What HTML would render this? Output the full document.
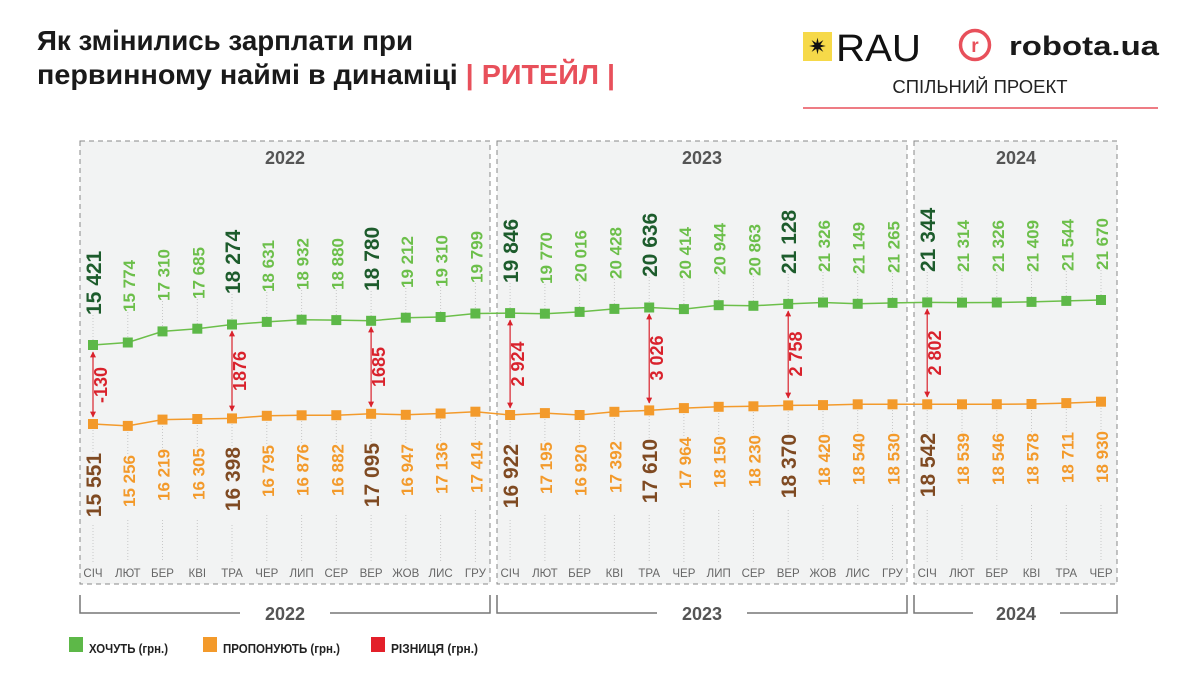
<!DOCTYPE html>
<html><head><meta charset="utf-8"><style>
html,body{margin:0;padding:0;background:#fff;}
svg{display:block;font-family:"Liberation Sans",sans-serif;}
.g{fill:#6cbf4a;font-weight:bold;font-size:17px;}
.gd{fill:#1d5c2c;font-weight:bold;font-size:21px;}
.o{fill:#f39a2b;font-weight:bold;font-size:17px;}
.od{fill:#7f4a22;font-weight:bold;font-size:21px;}
.d{fill:#d9222c;font-weight:bold;font-size:18px;}
.m{fill:#666;font-size:11.5px;text-anchor:middle;}
.yr{fill:#555;font-weight:bold;font-size:18px;text-anchor:middle;}
.lg{fill:#222;font-weight:bold;font-size:13px;}
</style></head><body>
<svg width="1200" height="675" viewBox="0 0 1200 675" xmlns="http://www.w3.org/2000/svg">
<defs>
<marker id="ah" viewBox="0 0 10 10" refX="9" refY="5" markerWidth="5" markerHeight="5" orient="auto-start-reverse"><path d="M0,0 L10,5 L0,10 z" fill="#d9222c"/></marker>
</defs>
<!-- title -->
<text x="37" y="50" font-size="28" font-weight="bold" fill="#1a1a1a" textLength="376" lengthAdjust="spacingAndGlyphs">Як змінились зарплати при</text>
<text x="37" y="84" font-size="28" font-weight="bold" fill="#1a1a1a" textLength="578" lengthAdjust="spacingAndGlyphs">первинному наймі в динаміці <tspan fill="#e8505b">| РИТЕЙЛ |</tspan></text>
<!-- logos -->
<rect x="803" y="32" width="29" height="29" fill="#f6d949"/>
<text x="817.5" y="54" font-size="22" text-anchor="middle" fill="#111">✷</text>
<text x="836" y="61" font-size="38" fill="#111" textLength="85" lengthAdjust="spacingAndGlyphs">RAU</text>
<circle cx="975" cy="45" r="14.5" fill="none" stroke="#e8505b" stroke-width="3.5"/>
<text x="975" y="52" font-size="19" font-weight="bold" text-anchor="middle" fill="#e8505b">r</text>
<text x="1009" y="55" font-size="27" font-weight="bold" fill="#1a1a1a" textLength="150" lengthAdjust="spacingAndGlyphs">robota.ua</text>
<text x="980" y="93" font-size="18.5" text-anchor="middle" fill="#222">СПІЛЬНИЙ ПРОЕКТ</text>
<line x1="803" y1="108" x2="1158" y2="108" stroke="#e8505b" stroke-width="1.5"/>
<!-- panels -->
<rect x="80" y="141" width="410" height="443" fill="#f2f3f3" stroke="#888" stroke-dasharray="5,4"/>
<rect x="497" y="141" width="410" height="443" fill="#f2f3f3" stroke="#888" stroke-dasharray="5,4"/>
<rect x="914" y="141" width="203" height="443" fill="#f2f3f3" stroke="#888" stroke-dasharray="5,4"/>
<text class="yr" x="285" y="164">2022</text>
<text class="yr" x="702" y="164">2023</text>
<text class="yr" x="1016" y="164">2024</text>
<!-- leader lines -->
<g stroke="#c8c8c8" stroke-width="1" stroke-dasharray="1,2">
<path d="M93,315V345M127.8,312V342M162.5,301V331M197.3,299V329M232,294V324M266.8,292V322M301.6,290V320M336.3,290V320M371.1,291V321M405.8,288V318M440.6,287V317M475.4,283V313M510.1,283V313M544.9,284V314M579.6,282V312M614.4,279V309M649.2,277V307M683.9,279V309M718.7,275V305M753.4,276V306M788.2,274V304M823,272V302M857.7,274V304M892.5,273V303M927.2,272V302M962,272V302M996.8,272V302M1031.5,272V302M1066.3,271V301M1101,270V300"/>
<path d="M93,424V453M127.8,426V455M162.5,420V449M197.3,419V448M232,418V447M266.8,416V445M301.6,415V444M336.3,415V444M371.1,414V443M405.8,415V444M440.6,413V442M475.4,412V441M510.1,415V444M544.9,413V442M579.6,415V444M614.4,412V441M649.2,410V439M683.9,408V437M718.7,407V436M753.4,406V435M788.2,405V434M823,405V434M857.7,404V433M892.5,404V433M927.2,404V433M962,404V433M996.8,404V433M1031.5,404V433M1066.3,403V432M1101,402V431"/>
<path d="M93,525V562M127.8,520V562M162.5,520V562M197.3,520V562M232,525V562M266.8,515V562M301.6,515V562M336.3,515V562M371.1,515V562M405.8,515V562M440.6,515V562M475.4,510V562M510.1,520V562M544.9,515V562M579.6,515V562M614.4,515V562M649.2,515V562M683.9,510V562M718.7,510V562M753.4,510V562M788.2,510V562M823,505V562M857.7,505V562M892.5,505V562M927.2,510V562M962,505V562M996.8,505V562M1031.5,505V562M1066.3,505V562M1101,505V562"/>
</g>
<!-- lines -->
<polyline fill="none" stroke="#6cbf4a" stroke-width="1.5" points="93,345 127.8,342.5 162.5,331.4 197.3,328.7 232,324.5 266.8,321.9 301.6,319.7 336.3,320.1 371.1,320.8 405.8,317.7 440.6,317 475.4,313.5 510.1,313.1 544.9,313.7 579.6,311.9 614.4,308.9 649.2,307.5 683.9,309.1 718.7,305.2 753.4,305.8 788.2,303.9 823,302.5 857.7,303.8 892.5,302.9 927.2,302.4 962,302.6 996.8,302.5 1031.5,301.9 1066.3,300.9 1101,300"/>
<polyline fill="none" stroke="#f39a2b" stroke-width="1.5" points="93,424 127.8,425.9 162.5,419.6 197.3,419 232,418.4 266.8,415.8 301.6,415.3 336.3,415.2 371.1,413.8 405.8,414.8 440.6,413.5 475.4,411.7 510.1,415 544.9,413.1 579.6,415 614.4,411.8 649.2,410.4 683.9,408.1 718.7,406.8 753.4,406.3 788.2,405.4 823,405.1 857.7,404.3 892.5,404.3 927.2,404.3 962,404.3 996.8,404.2 1031.5,404 1066.3,403.1 1101,401.7"/>
<g fill="#5db848">
<rect x="88" y="340" width="10" height="10"/><rect x="122.8" y="337.5" width="10" height="10"/><rect x="157.5" y="326.4" width="10" height="10"/><rect x="192.3" y="323.7" width="10" height="10"/><rect x="227" y="319.5" width="10" height="10"/><rect x="261.8" y="316.9" width="10" height="10"/><rect x="296.6" y="314.7" width="10" height="10"/><rect x="331.3" y="315.1" width="10" height="10"/><rect x="366.1" y="315.8" width="10" height="10"/><rect x="400.8" y="312.7" width="10" height="10"/><rect x="435.6" y="312" width="10" height="10"/><rect x="470.4" y="308.5" width="10" height="10"/><rect x="505.1" y="308.1" width="10" height="10"/><rect x="539.9" y="308.7" width="10" height="10"/><rect x="574.6" y="306.9" width="10" height="10"/><rect x="609.4" y="303.9" width="10" height="10"/><rect x="644.2" y="302.5" width="10" height="10"/><rect x="678.9" y="304.1" width="10" height="10"/><rect x="713.7" y="300.2" width="10" height="10"/><rect x="748.4" y="300.8" width="10" height="10"/><rect x="783.2" y="298.9" width="10" height="10"/><rect x="818" y="297.5" width="10" height="10"/><rect x="852.7" y="298.8" width="10" height="10"/><rect x="887.5" y="297.9" width="10" height="10"/><rect x="922.2" y="297.4" width="10" height="10"/><rect x="957" y="297.6" width="10" height="10"/><rect x="991.8" y="297.5" width="10" height="10"/><rect x="1026.5" y="296.9" width="10" height="10"/><rect x="1061.3" y="295.9" width="10" height="10"/><rect x="1096" y="295" width="10" height="10"/>
</g>
<g fill="#f39a2b">
<rect x="88" y="419" width="10" height="10"/><rect x="122.8" y="420.9" width="10" height="10"/><rect x="157.5" y="414.6" width="10" height="10"/><rect x="192.3" y="414" width="10" height="10"/><rect x="227" y="413.4" width="10" height="10"/><rect x="261.8" y="410.8" width="10" height="10"/><rect x="296.6" y="410.3" width="10" height="10"/><rect x="331.3" y="410.2" width="10" height="10"/><rect x="366.1" y="408.8" width="10" height="10"/><rect x="400.8" y="409.8" width="10" height="10"/><rect x="435.6" y="408.5" width="10" height="10"/><rect x="470.4" y="406.7" width="10" height="10"/><rect x="505.1" y="410" width="10" height="10"/><rect x="539.9" y="408.1" width="10" height="10"/><rect x="574.6" y="410" width="10" height="10"/><rect x="609.4" y="406.8" width="10" height="10"/><rect x="644.2" y="405.4" width="10" height="10"/><rect x="678.9" y="403.1" width="10" height="10"/><rect x="713.7" y="401.8" width="10" height="10"/><rect x="748.4" y="401.3" width="10" height="10"/><rect x="783.2" y="400.4" width="10" height="10"/><rect x="818" y="400.1" width="10" height="10"/><rect x="852.7" y="399.3" width="10" height="10"/><rect x="887.5" y="399.3" width="10" height="10"/><rect x="922.2" y="399.3" width="10" height="10"/><rect x="957" y="399.3" width="10" height="10"/><rect x="991.8" y="399.2" width="10" height="10"/><rect x="1026.5" y="399" width="10" height="10"/><rect x="1061.3" y="398.1" width="10" height="10"/><rect x="1096" y="396.7" width="10" height="10"/>
</g>
<!-- diff arrows -->
<g stroke="#d9222c" stroke-width="1.2" marker-start="url(#ah)" marker-end="url(#ah)">
<line x1="93" y1="352" x2="93" y2="417"/>
<line x1="232" y1="331" x2="232" y2="411"/>
<line x1="371.1" y1="327" x2="371.1" y2="407"/>
<line x1="510.1" y1="320" x2="510.1" y2="408"/>
<line x1="649.2" y1="314" x2="649.2" y2="403"/>
<line x1="788.2" y1="311" x2="788.2" y2="398"/>
<line x1="927.2" y1="309" x2="927.2" y2="397"/>
</g>
<g class="d" text-anchor="middle">
<text transform="translate(107,385) rotate(-90)">-130</text>
<text transform="translate(246,371) rotate(-90)">1876</text>
<text transform="translate(385,367) rotate(-90)">1685</text>
<text transform="translate(524,364) rotate(-90)">2 924</text>
<text transform="translate(663,358) rotate(-90)">3 026</text>
<text transform="translate(802,354) rotate(-90)">2 758</text>
<text transform="translate(941,353) rotate(-90)">2 802</text>
</g>
<!-- green labels -->
<g>
<text class="gd" transform="translate(101,315) rotate(-90)">15 421</text>
<text class="g" transform="translate(134.8,312) rotate(-90)">15 774</text>
<text class="g" transform="translate(169.5,301) rotate(-90)">17 310</text>
<text class="g" transform="translate(204.3,299) rotate(-90)">17 685</text>
<text class="gd" transform="translate(240,294) rotate(-90)">18 274</text>
<text class="g" transform="translate(273.8,292) rotate(-90)">18 631</text>
<text class="g" transform="translate(308.6,290) rotate(-90)">18 932</text>
<text class="g" transform="translate(343.3,290) rotate(-90)">18 880</text>
<text class="gd" transform="translate(379.1,291) rotate(-90)">18 780</text>
<text class="g" transform="translate(412.8,288) rotate(-90)">19 212</text>
<text class="g" transform="translate(447.6,287) rotate(-90)">19 310</text>
<text class="g" transform="translate(482.4,283) rotate(-90)">19 799</text>
<text class="gd" transform="translate(518.1,283) rotate(-90)">19 846</text>
<text class="g" transform="translate(551.9,284) rotate(-90)">19 770</text>
<text class="g" transform="translate(586.6,282) rotate(-90)">20 016</text>
<text class="g" transform="translate(621.4,279) rotate(-90)">20 428</text>
<text class="gd" transform="translate(657.2,277) rotate(-90)">20 636</text>
<text class="g" transform="translate(690.9,279) rotate(-90)">20 414</text>
<text class="g" transform="translate(725.7,275) rotate(-90)">20 944</text>
<text class="g" transform="translate(760.4,276) rotate(-90)">20 863</text>
<text class="gd" transform="translate(796.2,274) rotate(-90)">21 128</text>
<text class="g" transform="translate(830,272) rotate(-90)">21 326</text>
<text class="g" transform="translate(864.7,274) rotate(-90)">21 149</text>
<text class="g" transform="translate(899.5,273) rotate(-90)">21 265</text>
<text class="gd" transform="translate(935.2,272) rotate(-90)">21 344</text>
<text class="g" transform="translate(969,272) rotate(-90)">21 314</text>
<text class="g" transform="translate(1003.8,272) rotate(-90)">21 326</text>
<text class="g" transform="translate(1038.5,272) rotate(-90)">21 409</text>
<text class="g" transform="translate(1073.3,271) rotate(-90)">21 544</text>
<text class="g" transform="translate(1108,270) rotate(-90)">21 670</text>
</g>
<!-- orange labels -->
<g text-anchor="end">
<text class="od" transform="translate(101,453) rotate(-90)">15 551</text>
<text class="o" transform="translate(134.8,455) rotate(-90)">15 256</text>
<text class="o" transform="translate(169.5,449) rotate(-90)">16 219</text>
<text class="o" transform="translate(204.3,448) rotate(-90)">16 305</text>
<text class="od" transform="translate(240,447) rotate(-90)">16 398</text>
<text class="o" transform="translate(273.8,445) rotate(-90)">16 795</text>
<text class="o" transform="translate(308.6,444) rotate(-90)">16 876</text>
<text class="o" transform="translate(343.3,444) rotate(-90)">16 882</text>
<text class="od" transform="translate(379.1,443) rotate(-90)">17 095</text>
<text class="o" transform="translate(412.8,444) rotate(-90)">16 947</text>
<text class="o" transform="translate(447.6,442) rotate(-90)">17 136</text>
<text class="o" transform="translate(482.4,441) rotate(-90)">17 414</text>
<text class="od" transform="translate(518.1,444) rotate(-90)">16 922</text>
<text class="o" transform="translate(551.9,442) rotate(-90)">17 195</text>
<text class="o" transform="translate(586.6,444) rotate(-90)">16 920</text>
<text class="o" transform="translate(621.4,441) rotate(-90)">17 392</text>
<text class="od" transform="translate(657.2,439) rotate(-90)">17 610</text>
<text class="o" transform="translate(690.9,437) rotate(-90)">17 964</text>
<text class="o" transform="translate(725.7,436) rotate(-90)">18 150</text>
<text class="o" transform="translate(760.4,435) rotate(-90)">18 230</text>
<text class="od" transform="translate(796.2,434) rotate(-90)">18 370</text>
<text class="o" transform="translate(830,434) rotate(-90)">18 420</text>
<text class="o" transform="translate(864.7,433) rotate(-90)">18 540</text>
<text class="o" transform="translate(899.5,433) rotate(-90)">18 530</text>
<text class="od" transform="translate(935.2,433) rotate(-90)">18 542</text>
<text class="o" transform="translate(969,433) rotate(-90)">18 539</text>
<text class="o" transform="translate(1003.8,433) rotate(-90)">18 546</text>
<text class="o" transform="translate(1038.5,433) rotate(-90)">18 578</text>
<text class="o" transform="translate(1073.3,432) rotate(-90)">18 711</text>
<text class="o" transform="translate(1108,431) rotate(-90)">18 930</text>
</g>
<!-- months -->
<g class="m">
<text x="93" y="577">СІЧ</text><text x="127.8" y="577">ЛЮТ</text><text x="162.5" y="577">БЕР</text><text x="197.3" y="577">КВІ</text><text x="232" y="577">ТРА</text><text x="266.8" y="577">ЧЕР</text><text x="301.6" y="577">ЛИП</text><text x="336.3" y="577">СЕР</text><text x="371.1" y="577">ВЕР</text><text x="405.8" y="577">ЖОВ</text><text x="440.6" y="577">ЛИС</text><text x="475.4" y="577">ГРУ</text>
<text x="510.1" y="577">СІЧ</text><text x="544.9" y="577">ЛЮТ</text><text x="579.6" y="577">БЕР</text><text x="614.4" y="577">КВІ</text><text x="649.2" y="577">ТРА</text><text x="683.9" y="577">ЧЕР</text><text x="718.7" y="577">ЛИП</text><text x="753.4" y="577">СЕР</text><text x="788.2" y="577">ВЕР</text><text x="823" y="577">ЖОВ</text><text x="857.7" y="577">ЛИС</text><text x="892.5" y="577">ГРУ</text>
<text x="927.2" y="577">СІЧ</text><text x="962" y="577">ЛЮТ</text><text x="996.8" y="577">БЕР</text><text x="1031.5" y="577">КВІ</text><text x="1066.3" y="577">ТРА</text><text x="1101" y="577">ЧЕР</text>
</g>
<!-- brackets -->
<g fill="none" stroke="#777" stroke-width="1.5">
<path d="M80,595V613H240M330,613H490V595"/>
<path d="M497,595V613H657M747,613H907V595"/>
<path d="M914,595V613H973M1060,613H1117V595"/>
</g>
<text class="yr" x="285" y="620">2022</text>
<text class="yr" x="702" y="620">2023</text>
<text class="yr" x="1016" y="620">2024</text>
<!-- legend -->
<rect x="69" y="637" width="14" height="15" fill="#5db848"/>
<text class="lg" x="89" y="653" textLength="79" lengthAdjust="spacingAndGlyphs">ХОЧУТЬ (грн.)</text>
<rect x="203" y="637" width="14" height="15" fill="#f39a2b"/>
<text class="lg" x="223" y="653" textLength="117" lengthAdjust="spacingAndGlyphs">ПРОПОНУЮТЬ (грн.)</text>
<rect x="371" y="637" width="14" height="15" fill="#e3202a"/>
<text class="lg" x="391" y="653" textLength="87" lengthAdjust="spacingAndGlyphs">РІЗНИЦЯ (грн.)</text>
</svg>
</body></html>
